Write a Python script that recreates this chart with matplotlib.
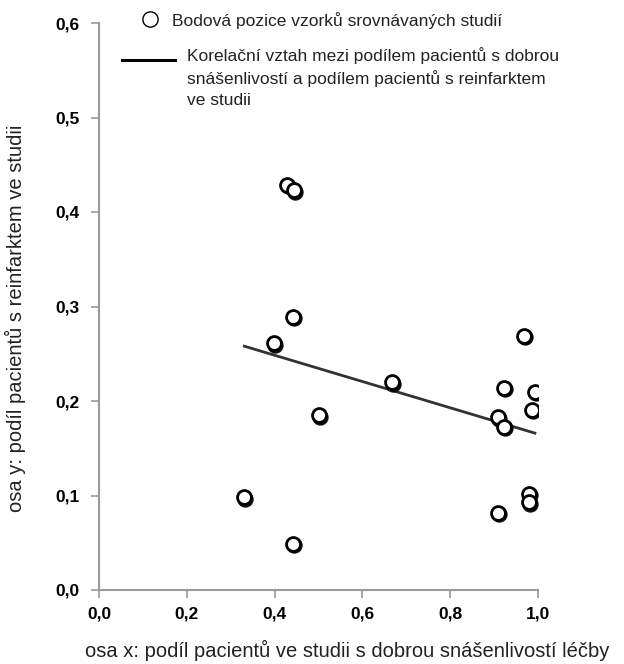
# Bodový graf: snášenlivost léčby vs. podíl reinfarktů
import matplotlib.pyplot as plt
import matplotlib.transforms as mtransforms
from matplotlib.ticker import FuncFormatter

plt.rcParams['font.family'] = ['Liberation Sans', 'DejaVu Sans']

# podíl pacientů s dobrou snášenlivostí (osa x)
snasenlivost = [0.428, 0.444, 0.443, 0.399, 0.667, 0.500, 0.331, 0.443,
                0.967, 0.923, 0.993, 0.987, 0.908, 0.923, 0.980, 0.980, 0.908]
# podíl pacientů s reinfarktem (osa y)
reinfarkt = [0.429, 0.423, 0.289, 0.261, 0.220, 0.185, 0.098, 0.049,
             0.269, 0.214, 0.210, 0.191, 0.183, 0.173, 0.102, 0.093, 0.082]

# korelační přímka (konce)
trend_x = [0.331, 0.993]
trend_y = [0.258, 0.166]

x_ticks = [0.0, 0.2, 0.4, 0.6, 0.8, 1.0]
y_ticks = [0.0, 0.1, 0.2, 0.3, 0.4, 0.5, 0.6]

fig = plt.figure(figsize=(6.24, 6.64), dpi=100)
ax = fig.add_axes([99 / 624, 1 - 590 / 664, 439 / 624, 567 / 664])

ax.plot(trend_x, trend_y, color='#333333', linewidth=2, zorder=2)

# stín pod kolečky
stin = mtransforms.offset_copy(ax.transData, fig=fig, x=1.0, y=-1.5, units='dots')
ax.scatter(snasenlivost, reinfarkt, s=105, facecolor='#111111', edgecolor='#111111',
           linewidth=1.5, transform=stin, zorder=3)
ax.scatter(snasenlivost, reinfarkt, s=100, facecolor='white', edgecolor='black',
           linewidth=2, zorder=4)

ax.set_xlim(0, 1.0)
ax.set_ylim(0, 0.6)
ax.set_xticks(x_ticks)
ax.set_yticks(y_ticks)
carka = FuncFormatter(lambda v, p: f'{v:.1f}'.replace('.', ','))
ax.xaxis.set_major_formatter(carka)
ax.yaxis.set_major_formatter(carka)

for s in ['top', 'right']:
    ax.spines[s].set_visible(False)
for s in ['left', 'bottom']:
    ax.spines[s].set_color('#999999')
    ax.spines[s].set_linewidth(1.5)
ax.tick_params(direction='out', length=6, width=1.2, color='#999999',
               labelsize=12.5, labelcolor='black')
ax.tick_params(axis='x', pad=6)
ax.tick_params(axis='y', pad=8)
for lbl in ax.get_xticklabels() + ax.get_yticklabels():
    lbl.set_fontweight('bold')

# legenda
fig.add_artist(plt.Line2D([150 / 624], [1 - 19 / 664], marker='o', markersize=11,
                          markerfacecolor='white', markeredgecolor='black',
                          markeredgewidth=1, linestyle='none'))
fig.text(172 / 624, 1 - 21 / 664, 'Bodová pozice vzorků srovnávaných studií',
         fontsize=12.5, va='center', ha='left', color='#222222')
fig.add_artist(plt.Line2D([122 / 624, 175 / 624], [1 - 60 / 664, 1 - 60 / 664],
                          color='black', linewidth=2.2))
fig.text(187 / 624, 1 - 47 / 664,
         'Korelační vztah mezi podílem pacientů s dobrou\n'
         'snášenlivostí a podílem pacientů s reinfarktem\n'
         've studii',
         fontsize=12.5, va='top', ha='left', color='#222222', linespacing=1.45)

fig.text(15 / 624, 1 - 318 / 664, 'osa y: podíl pacientů s reinfarktem ve studii',
         rotation=90, fontsize=14.5, va='center', ha='center', color='#222222')
fig.text(347 / 624, 1 - 650 / 664, 'osa x: podíl pacientů ve studii s dobrou snášenlivostí léčby',
         fontsize=14.5, va='center', ha='center', color='#222222')

plt.savefig('out.png', dpi=100)
